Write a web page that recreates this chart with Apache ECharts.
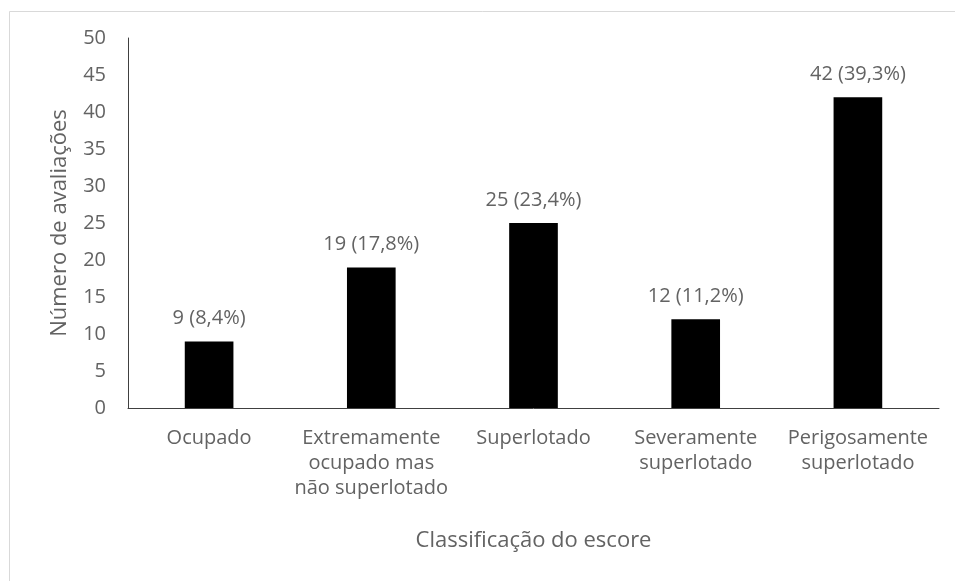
<!DOCTYPE html>
<html>
<head>
<meta charset="utf-8">
<script src="https://cdn.jsdelivr.net/npm/echarts@6/dist/echarts.min.js"></script>
<style>
html,body{margin:0;padding:0;background:#fff;}
#chart{width:955px;height:581px;}
</style>
</head>
<body>
<div id="chart"></div>
<script>
const categories = ["Ocupado", "Extremamente\nocupado mas\nnão superlotado", "Superlotado", "Severamente\nsuperlotado", "Perigosamente\nsuperlotado"];
const counts = [9, 19, 25, 12, 42];
const percents = ["8,4%", "17,8%", "23,4%", "11,2%", "39,3%"];
const yTicks = { min: 0, max: 50, interval: 5 };
const xTitle = "Classificação do escore";
const yTitle = "Número de avaliações";

const FONT = "Open Sans";
const TXT = "#636363";
const chart = echarts.init(document.getElementById('chart'));
chart.setOption({
  animation: false,
  backgroundColor: '#fff',
  textStyle: { fontFamily: FONT },
  graphic: [{
    type: 'rect', left: 7, top: 9, silent: true,
    shape: { x: 0.5, y: 0.5, width: 1000, height: 700 },
    style: { fill: 'none', stroke: '#d9d9d9', lineWidth: 1 }
  }],
  grid: { left: 128, top: 38, right: 16, bottom: 173, containLabel: false },
  xAxis: {
    type: 'category',
    data: categories,
    axisLine: { show: true, lineStyle: { color: '#404040', width: 1 } },
    axisTick: { show: false },
    axisLabel: { color: TXT, fontSize: 20, fontFamily: FONT, lineHeight: 25, margin: 18, interval: 0 },
    name: xTitle,
    nameLocation: 'middle',
    nameGap: 122,
    nameTextStyle: { color: TXT, fontSize: 22, fontFamily: FONT }
  },
  yAxis: {
    type: 'value',
    min: yTicks.min, max: yTicks.max, interval: yTicks.interval,
    axisLine: { show: true, lineStyle: { color: '#404040', width: 1 } },
    axisTick: { show: false },
    splitLine: { show: false },
    axisLabel: { color: TXT, fontSize: 20, fontFamily: FONT, margin: 22 },
    name: yTitle,
    nameLocation: 'middle',
    nameGap: 57,
    nameTextStyle: { color: TXT, fontSize: 22, fontFamily: FONT }
  },
  series: [{
    type: 'bar',
    data: counts,
    barWidth: '30%',
    itemStyle: { color: '#000' },
    label: {
      show: true, position: 'top', distance: 13,
      color: TXT, fontSize: 20, fontFamily: FONT,
      formatter: p => p.value + ' (' + percents[p.dataIndex] + ')'
    }
  }]
});
</script>
</body>
</html>
